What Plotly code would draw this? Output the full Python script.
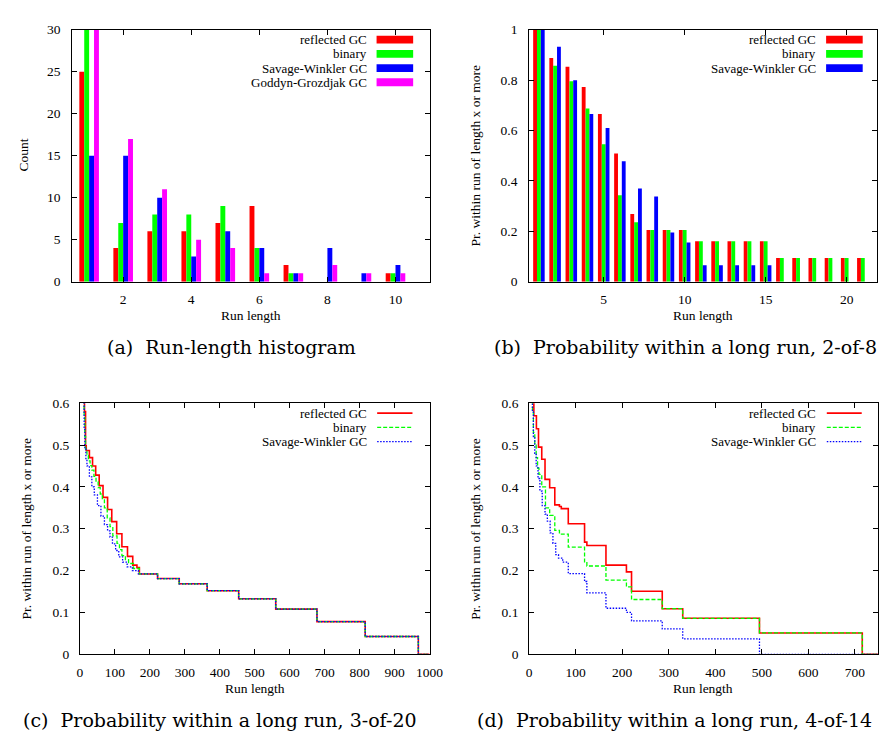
import plotly.graph_objects as go

W, H = 889, 731

# ---------------- data ----------------
# (a) run-length histogram
run_len_a = [1, 2, 3, 4, 5, 6, 7, 8, 9, 10, 11]
reflected_a = [25, 4, 6, 6, 7, 9, 2, 0, 0, 1, 0]
binary_a = [32, 7, 8, 8, 9, 4, 1, 0, 0, 1, 0]
savage_a = [15, 15, 10, 3, 6, 4, 1, 4, 1, 2, 0]
goddyn_a = [36, 17, 11, 5, 4, 1, 1, 2, 1, 1, 1]

# (b) probability within a long run, 2-of-8
run_len_b = list(range(1, 22))
reflected_b = [1.0, 0.888, 0.853, 0.773, 0.665, 0.509, 0.269, 0.205, 0.205, 0.205,
               0.161, 0.161, 0.161, 0.161, 0.161, 0.094, 0.094, 0.094, 0.094, 0.094, 0.094]
binary_b = [1.0, 0.857, 0.795, 0.687, 0.545, 0.343, 0.236, 0.205, 0.205, 0.205,
            0.161, 0.161, 0.161, 0.161, 0.161, 0.094, 0.094, 0.094, 0.094, 0.094, 0.094]
savage_b = [1.0, 0.932, 0.799, 0.665, 0.610, 0.478, 0.370, 0.338, 0.195, 0.156,
            0.065, 0.065, 0.065, 0.065, 0.065, 0.0, 0.0, 0.0, 0.0, 0.0, 0.0]

# (c) 3-of-20 step curves
reflected_c_x = [0, 8, 11, 13, 16, 18, 27, 36, 45, 55, 66, 79, 91, 105, 120, 136, 151, 163, 170,
                 222, 284, 364, 454, 560, 678, 816, 968, 1000]
reflected_c_y = [1.0, 0.80, 0.66, 0.58, 0.498, 0.487, 0.47, 0.45, 0.428, 0.403, 0.375, 0.346, 0.317,
                 0.288, 0.257, 0.234, 0.213, 0.207, 0.192,
                 0.181, 0.1685, 0.152, 0.1326, 0.108, 0.078, 0.0425, 0.0, 0.0]
binary_c_x = [0, 8, 10, 12, 14, 16, 20, 24, 29, 34, 40, 46, 52, 58, 64, 70, 78, 86, 94, 106, 113,
              120, 130, 139, 153, 170, 222, 284, 364, 454, 560, 678, 816, 968, 1000]
binary_c_y = [1.0, 0.75, 0.65, 0.57, 0.52, 0.49, 0.475, 0.462, 0.451, 0.44, 0.425, 0.412, 0.398,
              0.383, 0.369, 0.35, 0.326, 0.305, 0.283, 0.265, 0.25, 0.236, 0.226, 0.217, 0.205,
              0.192, 0.181, 0.1685, 0.152, 0.1326, 0.108, 0.078, 0.0425, 0.0, 0.0]
savage_c_x = [0, 8, 10, 12, 14, 17, 20, 27, 34, 41, 50, 60, 70, 79, 86, 93, 102, 111, 122, 135,
              150, 167, 222, 284, 364, 454, 560, 678, 816, 968, 1000]
savage_c_y = [1.0, 0.72, 0.62, 0.54, 0.49, 0.465, 0.45, 0.424, 0.40, 0.381, 0.355, 0.33, 0.31,
              0.295, 0.28, 0.264, 0.248, 0.233, 0.22, 0.209, 0.20, 0.192,
              0.181, 0.1685, 0.152, 0.1326, 0.108, 0.078, 0.0425, 0.0, 0.0]

# (d) 4-of-14 step curves
reflected_d_x = [0, 4, 7, 10, 15.5, 20, 27, 34, 44, 55, 65, 69, 84, 119, 124, 165, 209, 220,
                 286, 330, 495, 716, 750]
reflected_d_y = [1.0, 0.85, 0.7, 0.57, 0.539, 0.495, 0.466, 0.418, 0.398, 0.357, 0.353, 0.348,
                 0.312, 0.268, 0.26, 0.213, 0.197, 0.1505, 0.109, 0.086, 0.051, 0.0, 0.0]
binary_d_x = [0, 4, 7, 9, 12, 15, 18, 21, 27, 35, 44, 55, 65, 84, 119, 124, 165, 209, 220,
              286, 330, 495, 716, 750]
binary_d_y = [1.0, 0.75, 0.58, 0.53, 0.50, 0.47, 0.445, 0.43, 0.40, 0.35, 0.332, 0.296, 0.287,
              0.256, 0.221, 0.211, 0.177, 0.161, 0.131, 0.109, 0.086, 0.051, 0.0, 0.0]
savage_d_x = [0, 4, 7, 9, 12, 15, 19, 23, 28, 34, 39, 45, 51, 57, 63, 72, 84, 119, 124, 165,
              209, 220, 286, 330, 495, 750]
savage_d_y = [1.0, 0.75, 0.58, 0.52, 0.48, 0.45, 0.42, 0.39, 0.355, 0.335, 0.318, 0.29, 0.265,
              0.238, 0.23, 0.22, 0.193, 0.174, 0.147, 0.11, 0.10, 0.080, 0.061, 0.037, 0.0, 0.0]

names_a = ["reflected GC", "binary", "Savage-Winkler GC", "Goddyn-Grozdjak GC"]
names_line = ["reflected GC", "binary", "Savage-Winkler GC"]
captions = ["(a)  Run-length histogram",
            "(b)  Probability within a long run, 2-of-8",
            "(c)  Probability within a long run, 3-of-20",
            "(d)  Probability within a long run, 4-of-14"]

RED, GREEN, BLUE, MAG = "#ff0000", "#00ff00", "#0000ff", "#ff00ff"
FONT = "Liberation Serif"
CAPFONT = "DejaVu Serif"
FS = 13.5
LFS = 13


def px(x):
    return x / W


def py(y):
    return 1 - y / H


fig = go.Figure()

# ---- (a) bars
bw_a = 0.144
for i, (vals, col) in enumerate(zip([reflected_a, binary_a, savage_a, goddyn_a],
                                    [RED, GREEN, BLUE, MAG])):
    fig.add_trace(go.Bar(x=run_len_a, y=vals, width=bw_a, offset=-2 * bw_a + i * bw_a,
                         marker=dict(color=col, line=dict(width=0)),
                         name=names_a[i], xaxis="x", yaxis="y"))

# ---- (b) bars
bw_b = 0.237
for i, (vals, col) in enumerate(zip([reflected_b, binary_b, savage_b], [RED, GREEN, BLUE])):
    fig.add_trace(go.Bar(x=run_len_b, y=vals, width=bw_b, offset=-1.5 * bw_b + i * bw_b,
                         marker=dict(color=col, line=dict(width=0)),
                         name=names_line[i], xaxis="x2", yaxis="y2"))

line_styles = [dict(color=RED, width=1.6),
               dict(color=GREEN, width=1.3, dash="4px,2px"),
               dict(color=BLUE, width=1.3, dash="1.5px,1.5px")]

for (xs, ys), st, nm in zip([(reflected_c_x, reflected_c_y), (binary_c_x, binary_c_y),
                             (savage_c_x, savage_c_y)], line_styles, names_line):
    fig.add_trace(go.Scatter(x=xs, y=ys, mode="lines", line=dict(shape="hv", **st),
                             name=nm, xaxis="x3", yaxis="y3"))

for (xs, ys), st, nm in zip([(reflected_d_x, reflected_d_y), (binary_d_x, binary_d_y),
                             (savage_d_x, savage_d_y)], line_styles, names_line):
    fig.add_trace(go.Scatter(x=xs, y=ys, mode="lines", line=dict(shape="hv", **st),
                             name=nm, xaxis="x4", yaxis="y4"))

# ---- axes
dom_x_a = [px(62.3), px(426.7)]
dom_x_b = [px(528.3), px(883.3)]
dom_x_c = [px(70.3), px(426.7)]
dom_x_d = [px(528.3), px(884.0)]
dom_y_top = [py(272.3), py(15.0)]
dom_y_bot = [py(652.7), py(396.3)]


def axis(domain, rng, anchor, **kw):
    d = dict(domain=domain, range=rng, anchor=anchor, showline=True, linecolor="black",
             linewidth=1, mirror="ticks", ticks="inside", ticklen=5, tickcolor="black",
             tickwidth=1, showgrid=False, zeroline=False,
             tickfont=dict(family=FONT, size=FS, color="black"))
    d.update(kw)
    return d


fig.update_layout(
    width=W, height=H, margin=dict(l=0, r=0, t=0, b=0),
    paper_bgcolor="white", plot_bgcolor="white", showlegend=False,
    barmode="overlay",
    xaxis=axis(dom_x_a, [0.5, 11.0], "y", tickvals=[2, 4, 6, 8, 10], ticklabelstandoff=5),
    yaxis=axis(dom_y_top, [0, 30], "x", tickvals=[0, 5, 10, 15, 20, 25, 30], ticklabelstandoff=8),
    xaxis2=axis(dom_x_b, [0.4, 21.9], "y2", tickvals=[5, 10, 15, 20], ticklabelstandoff=5),
    yaxis2=axis(dom_y_top, [0, 1], "x2", tickvals=[0, 0.2, 0.4, 0.6, 0.8, 1],
                ticktext=["0", "0.2", "0.4", "0.6", "0.8", "1"], ticklabelstandoff=8),
    xaxis3=axis(dom_x_c, [0, 1000], "y3", dtick=100, tick0=0, ticklabelstandoff=5),
    yaxis3=axis(dom_y_bot, [0, 0.6], "x3", tickvals=[0, 0.1, 0.2, 0.3, 0.4, 0.5, 0.6],
                ticktext=["0", "0.1", "0.2", "0.3", "0.4", "0.5", "0.6"], ticklabelstandoff=7),
    xaxis4=axis(dom_x_d, [0, 750], "y4", dtick=100, tick0=0, ticklabelstandoff=5),
    yaxis4=axis(dom_y_bot, [0, 0.6], "x4", tickvals=[0, 0.1, 0.2, 0.3, 0.4, 0.5, 0.6],
                ticktext=["0", "0.1", "0.2", "0.3", "0.4", "0.5", "0.6"], ticklabelstandoff=7),
)

annotations = []
shapes = []


def text(x, y, s, size=FS, family=FONT, xanchor="center", angle=0):
    annotations.append(dict(x=px(x), y=py(y), xref="paper", yref="paper", text=s,
                            showarrow=False, xanchor=xanchor, yanchor="middle",
                            textangle=angle, borderpad=0,
                            font=dict(family=family, size=size, color="black")))


# axis titles
text(13.3, 143.5, "Count", angle=-90)
text(244.5, 306.7, "Run length")
text(705.8, 306.7, "Run length")
text(474, 143.5, "Pr. within run of length x or more", angle=-90)
text(16, 524.5, "Pr. within run of length x or more", angle=-90)
text(474, 524.5, "Pr. within run of length x or more", angle=-90)
text(248.5, 687.7, "Run length")
text(706, 687.7, "Run length")

# legends (manual: text right-aligned, sample on the right)
rows_top = [25.2, 39.7, 54.2, 68.7]
for nm, col, yy in zip(names_a, [RED, GREEN, BLUE, MAG], rows_top):
    text(364, yy, nm, size=LFS, xanchor="right")
    shapes.append(dict(type="rect", xref="paper", yref="paper", x0=px(372.7), x1=px(410),
                       y0=py(yy + 4), y1=py(yy - 4), fillcolor=col, line=dict(width=0)))
for nm, col, yy in zip(names_line, [RED, GREEN, BLUE], rows_top):
    text(821.7, yy, nm, size=LFS, xanchor="right")
    shapes.append(dict(type="rect", xref="paper", yref="paper", x0=px(831), x1=px(868.3),
                       y0=py(yy + 4), y1=py(yy - 4), fillcolor=col, line=dict(width=0)))
rows_bot = [406.5, 421.0, 435.5]
for (x_t, x0, x1) in [(364, 373.3, 409.3), (821.7, 831.7, 867.3)]:
    for nm, st, yy in zip(names_line, line_styles, rows_bot):
        text(x_t, yy, nm, size=LFS, xanchor="right")
        shapes.append(dict(type="line", xref="paper", yref="paper", x0=px(x0), x1=px(x1),
                           y0=py(yy), y1=py(yy), line=st))

# captions
text(225, 339, captions[0], size=19, family=CAPFONT)
text(688, 339, captions[1], size=19, family=CAPFONT)
text(213, 720, captions[2], size=19, family=CAPFONT)
text(676, 720, captions[3], size=19, family=CAPFONT)

fig.update_layout(annotations=annotations, shapes=shapes)
fig.write_html("out.html")
